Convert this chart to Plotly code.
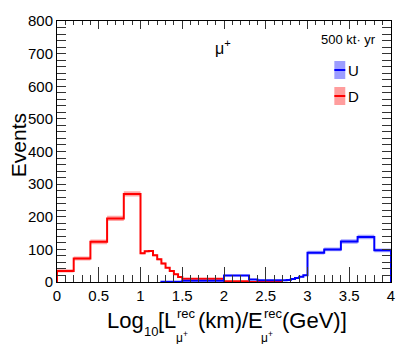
import plotly.graph_objects as go

# bin edges and contents
down_edges = [0, 0.2, 0.4, 0.6, 0.8, 1.0, 1.05, 1.1, 1.15, 1.2, 1.25, 1.3, 1.35, 1.4, 1.45, 1.5, 2.0, 2.3, 2.7]
down_counts = [34, 72, 123, 195, 270, 88, 94, 95, 82, 70, 57, 44, 34, 24, 15, 10, 2, 0]
down_err = [5, 6, 7, 8, 8, 3, 3, 3, 3, 3, 3, 2, 2, 2, 2, 2, 1, 1]

up_edges = [1.25, 1.5, 2.0, 2.3, 2.4, 2.5, 2.55, 2.6, 2.65, 2.7, 2.75, 2.8, 2.85, 2.9, 2.95, 3.0, 3.2, 3.4, 3.6, 3.8, 4.0]
up_counts = [1, 4, 20, 8, 5, 5, 5, 5, 5, 5, 6, 9, 12, 16, 21, 90, 100, 124, 138, 97]
up_err = [1, 1, 2, 2, 1, 1, 1, 1, 1, 1, 1, 1, 2, 2, 2, 6, 6, 7, 7, 6]

FONT = 'Liberation Sans, Arial, sans-serif'
W, H = 407, 344
L, R, T, B = 57, 14, 21, 62
PW, PH = W - L - R, H - T - B


def px(x):
    return (x - L) / PW


def py(y):
    return (H - B - y) / PH


def step_xy(edges, vals):
    xs = [edges[0]] + list(edges)
    ys = [0] + list(vals) + [vals[-1]]
    xs.append(edges[-1])
    ys.append(0)
    return xs, ys


def hist_traces(edges, vals, err, line_col, band_col):
    lo = [v - e for v, e in zip(vals, err)]
    hi = [v + e for v, e in zip(vals, err)]
    xs, ys = step_xy(edges, vals)
    return [
        go.Scatter(x=list(edges), y=lo + [lo[-1]], mode='lines', line=dict(width=0, shape='hv'),
                   showlegend=False, hoverinfo='skip'),
        go.Scatter(x=list(edges), y=hi + [hi[-1]], mode='lines', line=dict(width=0, shape='hv'),
                   fill='tonexty', fillcolor=band_col, showlegend=False, hoverinfo='skip'),
        go.Scatter(x=xs, y=ys, mode='lines', line=dict(color=line_col, width=2, shape='hv'),
                   showlegend=False),
    ]


fig = go.Figure()
for tr in hist_traces(down_edges, down_counts, down_err, '#ff0000', 'rgba(255,60,60,0.45)'):
    fig.add_trace(tr)
for tr in hist_traces(up_edges, up_counts, up_err, '#0000ff', 'rgba(60,60,255,0.45)'):
    fig.add_trace(tr)
# dummy trace so the top axis is drawn
fig.add_trace(go.Scatter(x=[None], y=[None], xaxis='x2', showlegend=False))

tick_col = '#333'
fig.update_layout(
    width=W, height=H,
    margin=dict(l=L, r=R, t=T, b=B),
    paper_bgcolor='white', plot_bgcolor='white',
    font=dict(family=FONT, color='black'),
    showlegend=False,
    xaxis=dict(range=[0, 4], dtick=0.5, ticks='inside', ticklen=15, tickcolor=tick_col,
               showline=True, linecolor='black', linewidth=1, showgrid=False, zeroline=False,
               tickfont=dict(size=15), tickformat='~g',
               minor=dict(ticks='inside', ticklen=7, dtick=0.1, tickcolor=tick_col, showgrid=False)),
    xaxis2=dict(range=[0, 4], overlaying='x', anchor='y', side='top', dtick=0.5, ticks='inside',
                ticklen=8, tickcolor=tick_col, showticklabels=False, showline=True,
                linecolor='black', linewidth=1, showgrid=False, zeroline=False,
                minor=dict(ticks='inside', ticklen=4, dtick=0.1, tickcolor=tick_col, showgrid=False)),
    yaxis=dict(range=[0, 800], dtick=100, ticks='inside', ticklen=9, tickcolor=tick_col,
               mirror='allticks', showline=True, linecolor='black', linewidth=1,
               showgrid=False, zeroline=False, tickfont=dict(size=15),
               minor=dict(ticks='inside', ticklen=4, dtick=20, tickcolor=tick_col, showgrid=False)),
)

ann = []


def text(x, y, s, size, anchor='left', angle=0):
    ann.append(dict(x=px(x), y=py(y), xref='paper', yref='paper', text=s, showarrow=False,
                    xanchor=anchor, yanchor='middle', textangle=angle, borderpad=0,
                    font=dict(size=size, family=FONT, color='black')))


# axis titles
text(18, 145, 'Events', 21, anchor='center', angle=-90)
text(106, 320, 'Log', 22)
text(144, 331, '10', 13)
text(158, 320, '[L', 22)
text(177, 313, 'rec', 13)
text(176, 337, 'μ<sup>+</sup>', 12)
text(198, 320, '(km)/E', 22)
text(264, 313, 'rec', 13)
text(261, 337, 'μ<sup>+</sup>', 12)
text(282, 320, '(GeV)]', 22)

# labels inside the frame
text(224, 47, 'μ<sup>+</sup>', 16, anchor='center')
text(379, 39, '500 kt· yr', 13, anchor='right')
text(349, 70, 'U', 15)
text(349, 96, 'D', 15)
fig.update_layout(annotations=ann)

# legend boxes
for yc, band, line in [(70, 'rgba(60,60,255,0.5)', '#0000ff'), (96, 'rgba(255,60,60,0.5)', '#ff0000')]:
    fig.add_shape(type='rect', xref='paper', yref='paper', x0=px(336), x1=px(347),
                  y0=py(yc + 9), y1=py(yc - 9), fillcolor=band, line=dict(width=0))
    fig.add_shape(type='line', xref='paper', yref='paper', x0=px(336), x1=px(347),
                  y0=py(yc), y1=py(yc), line=dict(color=line, width=2))

fig.write_html('out.html', config={'displayModeBar': False},
               post_script="document.body.style.margin='0px';")
